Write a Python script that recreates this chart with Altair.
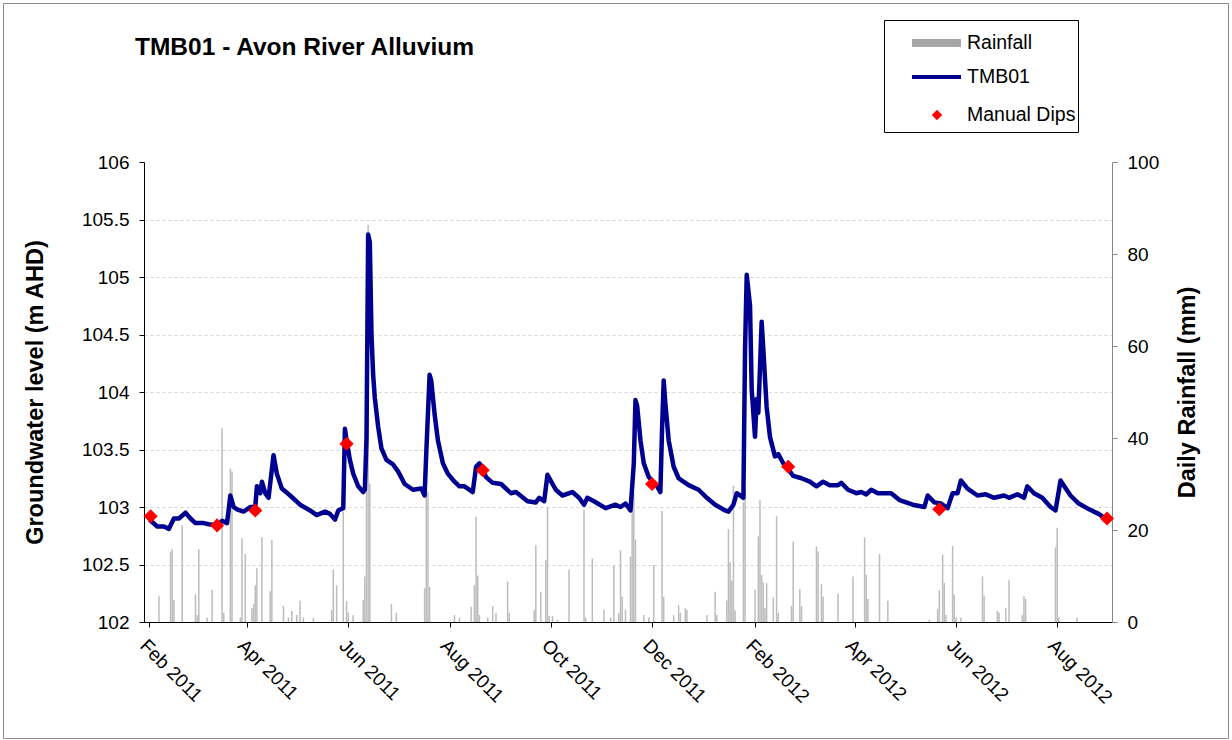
import altair as alt
import pandas as pd

FONT = "Liberation Sans"
NAVY = "#000090"
RED = "#ff0000"

# Logger record for bore TMB01 (m AHD)
level_dates = [
    "2011-02-02", "2011-02-06", "2011-02-10", "2011-02-13", "2011-02-16", "2011-02-19",
    "2011-02-23", "2011-02-26", "2011-03-01", "2011-03-06", "2011-03-09", "2011-03-14",
    "2011-03-17", "2011-03-20", "2011-03-22", "2011-03-24", "2011-03-26", "2011-03-30",
    "2011-04-03", "2011-04-06", "2011-04-07", "2011-04-09", "2011-04-10", "2011-04-12",
    "2011-04-14", "2011-04-17", "2011-04-19", "2011-04-22", "2011-04-27", "2011-05-03",
    "2011-05-09", "2011-05-13", "2011-05-18", "2011-05-21", "2011-05-24", "2011-05-26",
    "2011-05-29", "2011-05-30", "2011-05-31", "2011-06-02", "2011-06-04", "2011-06-07",
    "2011-06-10", "2011-06-11", "2011-06-12", "2011-06-13", "2011-06-14", "2011-06-15",
    "2011-06-16", "2011-06-17", "2011-06-19", "2011-06-21", "2011-06-24", "2011-06-28",
    "2011-07-01", "2011-07-05", "2011-07-10", "2011-07-15", "2011-07-17", "2011-07-18",
    "2011-07-20", "2011-07-21", "2011-07-23", "2011-07-25", "2011-07-28", "2011-07-31",
    "2011-08-04", "2011-08-07", "2011-08-10", "2011-08-15", "2011-08-17", "2011-08-19",
    "2011-08-23", "2011-08-27", "2011-09-01", "2011-09-07", "2011-09-10", "2011-09-17",
    "2011-09-22", "2011-09-24", "2011-09-27", "2011-09-29", "2011-10-04", "2011-10-08",
    "2011-10-14", "2011-10-18", "2011-10-21", "2011-10-23", "2011-10-27", "2011-11-03",
    "2011-11-09", "2011-11-12", "2011-11-15", "2011-11-18", "2011-11-20", "2011-11-21",
    "2011-11-22", "2011-11-24", "2011-11-26", "2011-11-29", "2011-12-04", "2011-12-06",
    "2011-12-07", "2011-12-08", "2011-12-09", "2011-12-11", "2011-12-14", "2011-12-17",
    "2011-12-19", "2011-12-23", "2011-12-29", "2012-01-03", "2012-01-08", "2012-01-14",
    "2012-01-16", "2012-01-19", "2012-01-21", "2012-01-24", "2012-01-25", "2012-01-26",
    "2012-01-27", "2012-01-29", "2012-01-30", "2012-02-01", "2012-02-02", "2012-02-03",
    "2012-02-05", "2012-02-06", "2012-02-08", "2012-02-10", "2012-02-13", "2012-02-15",
    "2012-02-18", "2012-02-21", "2012-02-24", "2012-02-29", "2012-03-05", "2012-03-09",
    "2012-03-13", "2012-03-17", "2012-03-22", "2012-03-24", "2012-03-28", "2012-04-02",
    "2012-04-05", "2012-04-08", "2012-04-11", "2012-04-15", "2012-04-23", "2012-04-28",
    "2012-05-06", "2012-05-13", "2012-05-15", "2012-05-19", "2012-05-23", "2012-05-27",
    "2012-05-30", "2012-06-02", "2012-06-04", "2012-06-08", "2012-06-14", "2012-06-19",
    "2012-06-24", "2012-06-30", "2012-07-03", "2012-07-08", "2012-07-12", "2012-07-14",
    "2012-07-18", "2012-07-23", "2012-07-28", "2012-07-31", "2012-08-03", "2012-08-09",
    "2012-08-14", "2012-08-19", "2012-08-23", "2012-08-26", "2012-08-30",
]
level_m = [
    102.88, 102.83, 102.83, 102.81, 102.90, 102.90,
    102.95, 102.90, 102.86, 102.86, 102.85, 102.84,
    102.88, 102.86, 103.10, 103.00, 102.98, 102.96,
    103.00, 103.00, 103.18, 103.12, 103.22, 103.12,
    103.08, 103.45, 103.29, 103.16, 103.10, 103.02,
    102.97, 102.93, 102.96, 102.94, 102.89, 102.97,
    102.99, 103.68, 103.58, 103.41, 103.29, 103.18,
    103.13, 103.15, 103.60, 105.37, 105.30, 104.50,
    104.15, 103.95, 103.70, 103.51, 103.41, 103.37,
    103.31, 103.20, 103.15, 103.16, 103.10, 103.47,
    104.15, 104.10, 103.81, 103.58, 103.38, 103.29,
    103.22, 103.18, 103.18, 103.13, 103.35, 103.38,
    103.26, 103.21, 103.20, 103.12, 103.13, 103.05,
    103.04, 103.08, 103.05, 103.28, 103.15, 103.10,
    103.13, 103.08, 103.02, 103.08, 103.05, 102.99,
    103.02, 103.00, 103.03, 102.97, 103.38, 103.93,
    103.88, 103.58, 103.38, 103.26, 103.18, 103.13,
    103.67, 104.10, 103.90, 103.58, 103.35, 103.25,
    103.23, 103.19, 103.15, 103.08, 103.02, 102.97,
    102.96, 103.02, 103.12, 103.09, 103.08, 104.37,
    105.02, 104.75, 104.02, 103.61, 103.94, 103.82,
    104.61, 104.37, 103.87, 103.61, 103.44, 103.46,
    103.38, 103.33, 103.27, 103.25, 103.22, 103.18,
    103.22, 103.19, 103.19, 103.21, 103.15, 103.12,
    103.13, 103.11, 103.15, 103.12, 103.12, 103.06,
    103.02, 103.00, 103.10, 103.04, 103.03, 102.99,
    103.12, 103.12, 103.23, 103.16, 103.10, 103.11,
    103.08, 103.10, 103.08, 103.11, 103.08, 103.18,
    103.12, 103.08, 103.00, 102.97, 103.23, 103.10,
    103.03, 102.99, 102.96, 102.94, 102.90,
]

# Manual water level measurements (m AHD)
dip_dates = [
    "2011-02-02", "2011-03-14", "2011-04-06", "2011-05-31", "2011-08-21",
    "2011-12-01", "2012-02-21", "2012-05-22", "2012-08-31",
]
dip_m = [102.92, 102.84, 102.97, 103.55, 103.32, 103.20, 103.35, 102.98, 102.90]

# Daily rainfall (mm)
rain_dates = [
    "2011-02-07", "2011-02-14", "2011-02-15", "2011-02-16", "2011-02-21", "2011-03-01",
    "2011-03-02", "2011-03-03", "2011-03-08", "2011-03-11", "2011-03-17", "2011-03-18",
    "2011-03-22", "2011-03-23", "2011-03-28", "2011-03-29", "2011-03-31", "2011-04-04",
    "2011-04-05", "2011-04-06", "2011-04-07", "2011-04-10", "2011-04-15", "2011-04-16",
    "2011-04-23", "2011-04-26", "2011-04-28", "2011-05-01", "2011-05-03", "2011-05-05",
    "2011-05-11", "2011-05-22", "2011-05-23", "2011-05-25", "2011-05-29", "2011-05-31",
    "2011-06-01", "2011-06-04", "2011-06-10", "2011-06-11", "2011-06-12", "2011-06-13",
    "2011-06-14", "2011-06-27", "2011-06-30", "2011-07-17", "2011-07-18", "2011-07-19",
    "2011-07-20", "2011-08-04", "2011-08-07", "2011-08-14", "2011-08-16", "2011-08-17",
    "2011-08-18", "2011-08-19", "2011-08-24", "2011-08-27", "2011-08-29", "2011-09-05",
    "2011-09-06", "2011-09-21", "2011-09-22", "2011-09-25", "2011-09-28", "2011-09-29",
    "2011-09-30", "2011-10-02", "2011-10-05", "2011-10-12", "2011-10-21", "2011-10-22",
    "2011-10-26", "2011-11-02", "2011-11-06", "2011-11-08", "2011-11-11", "2011-11-12",
    "2011-11-13", "2011-11-15", "2011-11-18", "2011-11-19", "2011-11-20", "2011-11-21",
    "2011-11-26", "2011-11-29", "2011-12-02", "2011-12-07", "2011-12-08", "2011-12-14",
    "2011-12-17", "2011-12-18", "2011-12-21", "2011-12-22", "2012-01-03", "2012-01-08",
    "2012-01-09", "2012-01-15", "2012-01-16", "2012-01-17", "2012-01-18", "2012-01-19",
    "2012-01-20", "2012-01-25", "2012-01-26", "2012-02-01", "2012-02-03", "2012-02-04",
    "2012-02-05", "2012-02-06", "2012-02-07", "2012-02-08", "2012-02-12", "2012-02-14",
    "2012-02-15", "2012-02-23", "2012-02-24", "2012-02-28", "2012-02-29", "2012-03-09",
    "2012-03-10", "2012-03-12", "2012-03-13", "2012-03-22", "2012-03-31", "2012-04-07",
    "2012-04-08", "2012-04-09", "2012-04-16", "2012-04-21", "2012-05-16", "2012-05-21",
    "2012-05-22", "2012-05-24", "2012-05-25", "2012-05-26", "2012-05-30", "2012-05-31",
    "2012-06-01", "2012-06-04", "2012-06-17", "2012-06-18", "2012-06-26", "2012-06-27",
    "2012-07-01", "2012-07-03", "2012-07-11", "2012-07-12", "2012-07-13", "2012-07-31",
    "2012-08-01", "2012-08-02", "2012-08-13",
]
rain_mm = [
    5.6, 15.3, 15.8, 4.8, 21.0, 6.0,
    1.5, 15.8, 1.0, 7.0, 42.1, 2.0,
    33.4, 32.7, 1.0, 18.2, 14.8, 3.0,
    3.9, 8.0, 11.7, 18.4, 6.7, 17.8,
    3.5, 1.0, 2.4, 1.5, 4.6, 1.0,
    0.9, 2.6, 11.4, 8.0, 24.0, 4.5,
    2.0, 1.5, 4.8, 9.9, 29.4, 86.3,
    30.1, 3.9, 2.0, 7.3, 27.6, 28.3,
    7.6, 1.5, 1.0, 3.3, 8.0, 22.9,
    10.1, 1.5, 1.0, 3.4, 2.0, 8.8,
    2.0, 2.6, 16.7, 6.5, 13.4, 25.0,
    1.3, 1.3, 0.5, 11.4, 24.4, 1.0,
    13.8, 2.7, 1.0, 12.2, 2.0, 15.6,
    5.5, 2.7, 14.2, 24.3, 28.0, 18.0,
    1.5, 1.0, 12.4, 24.2, 5.5, 1.5,
    3.6, 2.0, 3.0, 2.6, 1.5, 6.6,
    1.5, 4.7, 20.2, 13.0, 9.0, 29.6,
    2.5, 26.0, 29.0, 7.0, 18.6, 26.5,
    10.2, 8.6, 3.0, 8.4, 5.3, 23.0,
    2.0, 3.5, 17.5, 7.1, 3.4, 16.4,
    15.3, 8.2, 5.5, 6.2, 9.9, 18.4,
    10.3, 5.0, 14.8, 4.6, 0.5, 2.8,
    6.9, 14.6, 8.5, 1.5, 16.5, 6.0,
    1.0, 1.0, 9.9, 5.7, 2.4, 2.0,
    3.0, 9.1, 1.5, 5.6, 5.0, 16.2,
    20.5, 1.0, 1.0,
]

# Bi-monthly date ticks and the axis ranges
tick_months = [
    (2011, 2), (2011, 4), (2011, 6), (2011, 8), (2011, 10), (2011, 12),
    (2012, 2), (2012, 4), (2012, 6), (2012, 8),
]
level_ticks = [102, 102.5, 103, 103.5, 104, 104.5, 105, 105.5, 106]
rain_ticks = [0, 20, 40, 60, 80, 100]

level_df = pd.DataFrame({"date": level_dates, "level": level_m})
dip_df = pd.DataFrame({"date": dip_dates, "level": dip_m})
rain_df = pd.DataFrame({"date": rain_dates, "rain": rain_mm})

W, H = 968, 460
TICK_FS = 19
AXIS_TITLE_FS = 23.5

x_enc = alt.X(
    "date:T",
    title=None,
    scale=alt.Scale(
        type="utc",
        domain=[
            alt.DateTime(year=2011, month=2, date=1, utc=True),
            alt.DateTime(year=2012, month=8, date=31, utc=True),
        ],
    ),
    axis=alt.Axis(
        values=[alt.DateTime(year=y, month=m, date=1, utc=True) for y, m in tick_months],
        labelExpr="utcFormat(datum.value, '%b %Y')",
        labelAngle=45,
        labelAlign="left",
        labelBaseline="top",
        labelPadding=9,
        labelFont=FONT,
        labelFontSize=TICK_FS,
        labelColor="#000000",
        labelOverlap=False,
        labelFlush=False,
        tickSize=5,
        tickColor="#000000",
        domainColor="#000000",
        grid=False,
    ),
)

rain_bars = alt.Chart(rain_df).mark_bar(size=1.5, color="#bcbcbc").encode(
    x=x_enc,
    y=alt.Y(
        "rain:Q",
        scale=alt.Scale(domain=[0, 100], nice=False),
        axis=alt.Axis(
            orient="right",
            values=rain_ticks,
            title="Daily Rainfall (mm)",
            titleFont=FONT,
            titleFontSize=AXIS_TITLE_FS,
            titleFontWeight="bold",
            titleColor="#000000",
            titleAngle=270,
            titleX=75,
            titleY=H / 2,
            titleAlign="center",
            titleBaseline="middle",
            labelFont=FONT,
            labelFontSize=TICK_FS,
            labelColor="#000000",
            labelPadding=10,
            tickSize=5,
            tickColor="#868686",
            domainColor="#868686",
            grid=False,
        ),
    ),
)

level_y = alt.Y(
    "level:Q",
    scale=alt.Scale(domain=[102, 106], nice=False, zero=False),
    axis=alt.Axis(
        orient="left",
        values=level_ticks,
        format="~g",
        title="Groundwater level (m AHD)",
        titleFont=FONT,
        titleFontSize=AXIS_TITLE_FS,
        titleFontWeight="bold",
        titleColor="#000000",
        titleAngle=270,
        titleX=-109,
        titleY=H / 2,
        titleAlign="center",
        titleBaseline="middle",
        labelFont=FONT,
        labelFontSize=TICK_FS,
        labelColor="#000000",
        labelPadding=10,
        tickSize=5,
        tickColor="#000000",
        domainColor="#000000",
        grid=True,
        gridDash=[3, 3],
        gridColor={
            "condition": {"test": "datum.value >= 106 || datum.value <= 102", "value": "rgba(0,0,0,0)"},
            "value": "#d4d4d4",
        },
    ),
)

level_line = alt.Chart(level_df).mark_line(
    color=NAVY, strokeWidth=4.5, strokeJoin="round", strokeCap="round"
).encode(x=x_enc, y=level_y)
dip_points = alt.Chart(dip_df).mark_point(
    shape="diamond", filled=True, size=200, color=RED, opacity=1
).encode(x=x_enc, y=alt.Y("level:Q"))

groundwater = alt.layer(level_line, dip_points)

# Decorations drawn in the margins: frame, title and key
one = pd.DataFrame({"k": [0]})


def label(text, x, y, size=19.5, weight="normal", align="left", baseline="middle"):
    return alt.Chart(one).mark_text(
        text=text, font=FONT, fontSize=size, fontWeight=weight,
        align=align, baseline=baseline, color="#000000",
    ).encode(x=alt.value(x), y=alt.value(y))


frame = alt.Chart(one).mark_rect(fillOpacity=0, stroke="#8c8c8c", strokeWidth=1).encode(
    x=alt.value(-140.5), x2=alt.value(1084.5), y=alt.value(-158.5), y2=alt.value(576.5)
)
title = label("TMB01 - Avon River Alluvium", -9, -107, size=24.5, weight="bold", baseline="alphabetic")

key_box = alt.Chart(one).mark_rect(fill="white", stroke="#000000", strokeWidth=1).encode(
    x=alt.value(740.5), x2=alt.value(934.5), y=alt.value(-141.5), y2=alt.value(-29.5)
)
key_rain = alt.Chart(one).mark_rect(fill="#a6a6a6").encode(
    x=alt.value(768), x2=alt.value(817), y=alt.value(-123), y2=alt.value(-115)
)
key_line = alt.Chart(one).mark_rule(color=NAVY, strokeWidth=4).encode(
    x=alt.value(768), x2=alt.value(817), y=alt.value(-85)
)
key_dip = alt.Chart(one).mark_point(shape="diamond", filled=True, size=110, color=RED, opacity=1).encode(
    x=alt.value(793), y=alt.value(-47)
)

chart = (
    alt.layer(
        rain_bars,
        groundwater,
        frame,
        title,
        key_box,
        key_rain,
        key_line,
        key_dip,
        label("Rainfall", 823, -119),
        label("TMB01", 823, -85),
        label("Manual Dips", 823, -47),
    )
    .resolve_scale(y="independent")
    .properties(
        width=W,
        height=H,
        autosize=alt.AutoSizeParams(type="none"),
        padding={"left": 144, "top": 162, "right": 120, "bottom": 118},
        background="white",
    )
    .configure_view(stroke=None)
)

chart.save("out.html", embed_options={"renderer": "svg", "actions": False})
